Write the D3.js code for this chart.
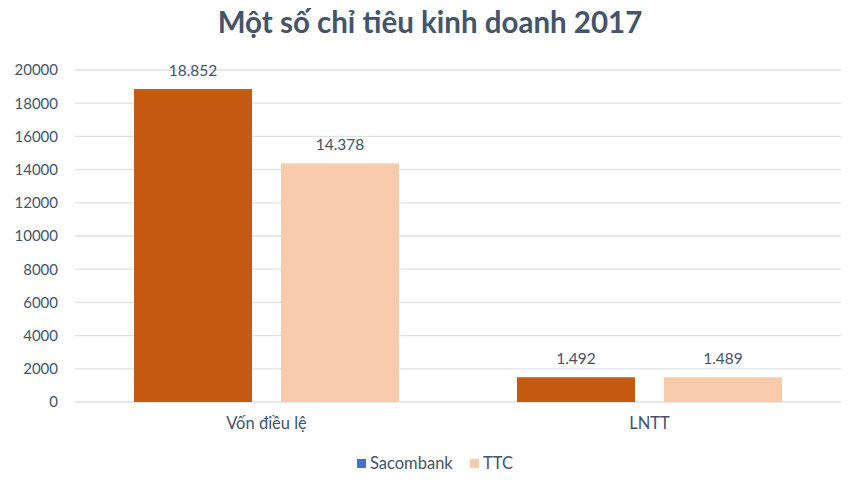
<!DOCTYPE html>
<html>
<head>
<meta charset="utf-8">
<script src="https://cdn.jsdelivr.net/npm/d3@7"></script>
<style>
  body { margin: 0; background: #fff; }
  text { font-family: Lato, "Open Sans", sans-serif; }
</style>
</head>
<body>
<script>
var categories = ["Vốn điều lệ", "LNTT"];
var seriesNames = ["Sacombank", "TTC"];
var sacombank = [18852, 1492];
var ttc = [14378, 1489];
var yTicks = [0, 2000, 4000, 6000, 8000, 10000, 12000, 14000, 16000, 18000, 20000];
var barColors = ["#C55A11", "#F8CBAD"];
var legendColors = ["#4472C4", "#F8CBAD"];

var width = 855, height = 486;
var textColor = "#44546A";

var svg = d3.select("body").append("svg")
    .attr("width", width)
    .attr("height", height);

var x0 = d3.scaleBand().domain(categories).range([75, 841]).paddingInner(0).paddingOuter(0);
var y = d3.scaleLinear().domain([0, 20000]).range([402, 70]);

// title
svg.append("text")
    .attr("x", 430).attr("y", 33)
    .attr("text-anchor", "middle")
    .attr("font-size", 29.5).attr("font-weight", "bold")
    .attr("fill", textColor)
    .text("Một số chỉ tiêu kinh doanh 2017");

// gridlines
svg.append("g").selectAll("line").data(yTicks).enter().append("line")
    .attr("x1", 75).attr("x2", 841)
    .attr("y1", d => y(d)).attr("y2", d => y(d))
    .attr("stroke", "#DDE2E8").attr("stroke-width", 1.3);

// y axis
var yAxis = d3.axisLeft(y).tickValues(yTicks).tickSize(0).tickPadding(17).tickFormat(d3.format("d"));
var gy = svg.append("g").attr("transform", "translate(75,0)").call(yAxis);
gy.select(".domain").remove();
gy.selectAll("text").attr("font-size", 15).attr("fill", textColor).style("font-family", "Lato, sans-serif");

// bars
var data = [];
categories.forEach(function (c, i) {
    data.push({ cat: c, s: 0, v: sacombank[i] });
    data.push({ cat: c, s: 1, v: ttc[i] });
});

var barW = 118, gap = 29;
function barX(d) {
    var center = x0(d.cat) + x0.bandwidth() / 2;
    return d.s == 0 ? center - gap / 2 - barW : center + gap / 2;
}

svg.append("g").selectAll("rect").data(data).enter().append("rect")
    .attr("x", barX)
    .attr("y", d => y(d.v))
    .attr("width", barW)
    .attr("height", d => y(0) - y(d.v))
    .attr("fill", d => barColors[d.s]);

var fmt = d3.formatLocale({ decimal: ",", thousands: ".", grouping: [3], currency: ["", ""] }).format(",d");
svg.append("g").selectAll("text").data(data).enter().append("text")
    .attr("x", d => barX(d) + barW / 2)
    .attr("y", d => y(d.v) - 13)
    .attr("text-anchor", "middle")
    .attr("font-size", 15.5).attr("fill", textColor)
    .text(d => fmt(d.v));

// category labels
var xAxis = d3.axisBottom(x0).tickSize(0).tickPadding(15);
var gx = svg.append("g").attr("transform", "translate(0,402)").call(xAxis);
gx.select(".domain").remove();
gx.selectAll("text").attr("font-size", 16.5).attr("fill", textColor).style("font-family", "Lato, sans-serif");

// legend
var legendX = [357, 470];
var lg = svg.append("g").selectAll("g").data(seriesNames).enter().append("g")
    .attr("transform", (d, i) => "translate(" + legendX[i] + ",459)");
lg.append("rect").attr("width", 9).attr("height", 9).attr("fill", (d, i) => legendColors[i]);
lg.append("text").attr("x", 13).attr("y", 10)
    .attr("font-size", 16.5).attr("fill", textColor)
    .text(d => d);
</script>
</body>
</html>
